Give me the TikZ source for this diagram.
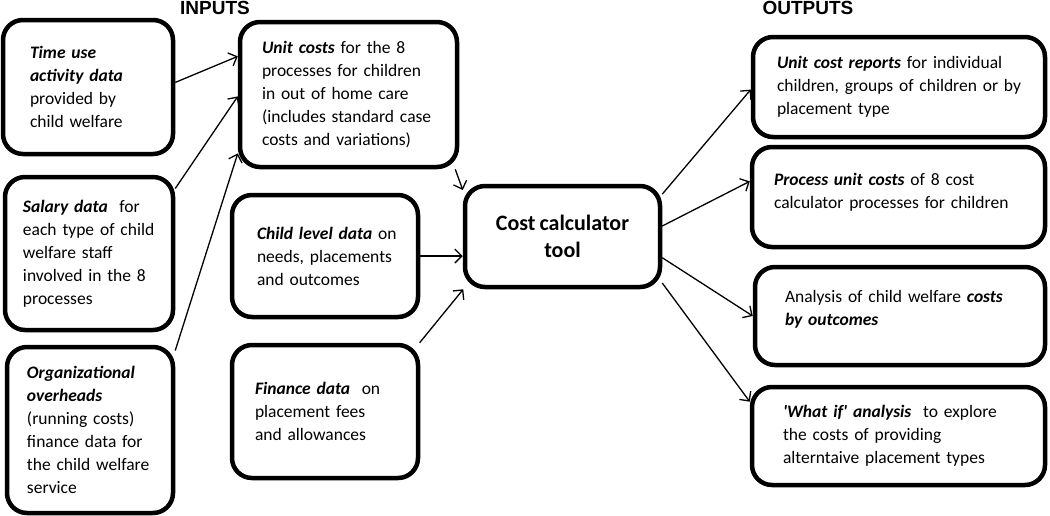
\documentclass[tikz,border=0pt]{standalone}
\usepackage{fontspec}
\setmainfont{Carlito}[WordSpace=0.8]
\newfontfamily\headfont{Liberation Sans}
\usepackage{tikz}
\usetikzlibrary{positioning,calc,arrows.meta}

\newcommand{\bi}[1]{\textbf{\textit{#1}}}

\begin{document}
\begin{tikzpicture}[x=1pt,y=-1pt,
    box/.style={draw, line width=4.5pt, rounded corners=20pt, align=left, inner xsep=4pt, font=\fontsize{17.5}{23}\selectfont},
    pad/.style={execute at begin node={\leftskip=#1}},
    head/.style={font=\headfont\bfseries\fontsize{19}{19}\selectfont},
    link/.style={line width=1.3pt, -{Straight Barb[length=7pt,width=14pt]}}]
    \useasboundingbox (0,0) rectangle (1050,515);

    % Headings
    \node[head] (In) at (215,8) {INPUTS};
    \node[head] (Out) at (808,8) {OUTPUTS};

    % Inputs, left column
    \node[box, minimum width=170pt, minimum height=134pt, text width=162pt, pad=23pt] (Time) at (88,87)
        {\bi{Time use}\\ \bi{activity data}\\ provided by\\ child welfare};
    \node[box, minimum width=168pt, minimum height=153pt, text width=160pt, pad=14pt] (Sal) at (89,253.5)
        {\bi{Salary data}\ \ for\\ each type of child\\ welfare staff\\ involved in the 8\\ processes};
    \node[box, minimum width=166pt, minimum height=166pt, text width=158pt, pad=16pt] (Org) at (90,430)
        {\bi{Organizational}\\ \bi{overheads}\\ (running costs)\\ finance data for\\ the child welfare\\ service};

    % Inputs, middle column
    \node[box, minimum width=217pt, minimum height=145pt, text width=209pt, pad=18pt] (Unit) at (348.5,94.5)
        {\bi{Unit costs} for the 8\\ processes for children\\ in out of home care\\ (includes standard case\\ costs and variations)};
    \node[box, minimum width=186pt, minimum height=122pt, text width=178pt, pad=21pt] (Child) at (325,256)
        {\bi{Child level data} on\\ needs, placements\\ and outcomes};
    \node[box, minimum width=186pt, minimum height=133pt, text width=178pt, pad=19pt] (Fin) at (325,411.5)
        {\bi{Finance data}\ \ on\\ placement fees\\ and allowances};

    % Tool
    \node[box, minimum width=195pt, minimum height=101pt, align=center, font=\bfseries\fontsize{22}{27}\selectfont] (Tool) at (562.5,236.5)
        {Cost calculator\\ tool};

    % Outputs
    \node[box, minimum width=292pt, minimum height=100pt, text width=284pt, pad=20pt] (Rep) at (899,87)
        {\bi{Unit cost reports} for individual\\ children, groups of children or by\\ placement type};
    \node[box, minimum width=293pt, minimum height=100pt, text width=285pt, pad=18pt, text depth=36pt] (Proc) at (898.5,197)
        {\bi{Process unit costs} of 8 cost\\ calculator processes for children};
    \node[box, minimum width=290pt, minimum height=98pt, text width=282pt, pad=26pt, text depth=39pt] (Outc) at (900,316)
        {Analysis of child welfare \bi{costs}\\ \bi{by outcomes}};
    \node[box, minimum width=293pt, minimum height=98pt, text width=285pt, pad=27pt] (Whatif) at (898.5,436)
        {\bi{\textquotesingle What if\textquotesingle\ analysis}\ \ to explore\\ the costs of providing\\ alterntaive placement types};

    % Links into unit costs
    \draw[link] (Time.3) -- (Unit.161);
    \draw[link] (Sal.37) -- (Unit.181);
    \draw[link] (Org.43) -- (Unit.208);

    % Links into the tool
    \draw[link] (Unit.-35) -- (Tool.155);
    \draw[link] (Child.east) -- (Child.east -| Tool.west);
    \draw[link] (Fin.36) -- (Tool.208);

    % Links out of the tool
    \draw[link] (Tool.23) -- (Rep.181);
    \draw[link] (Tool.6) -- (Proc.174);
    \draw[link] (Tool.-12) -- (Outc.west);
    \draw[link] (Tool.-25) -- (Whatif.167);

\end{tikzpicture}
\end{document}
